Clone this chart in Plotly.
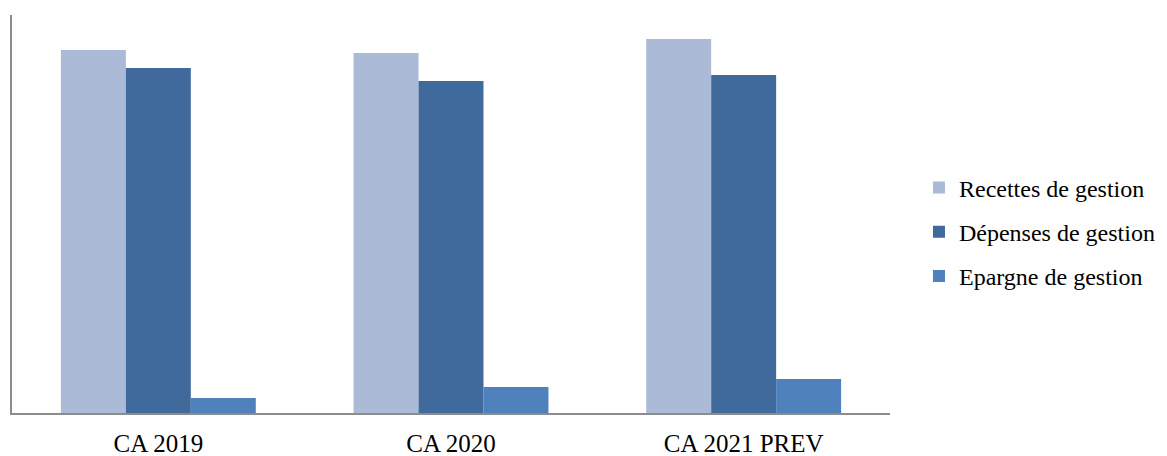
import plotly.graph_objects as go

categories = ["CA 2019", "CA 2020", "CA 2021 PREV"]
recettes = [363, 360, 374]
depenses = [345, 332, 338]
epargne = [15, 26, 34]

series = [
    ("Recettes de gestion", recettes, "#AABAD7"),
    ("Dépenses de gestion", depenses, "#3F6A9B"),
    ("Epargne de gestion", epargne, "#4F81BD"),
]

fig = go.Figure()
for i, (name, vals, color) in enumerate(series):
    fig.add_trace(go.Bar(
        x=categories, y=vals, name=name,
        marker=dict(color=color, line=dict(width=0)),
        legendgroup=f"g{i}",
    ))

serif = "Liberation Serif, Times New Roman, serif"
fig.update_layout(
    width=1167, height=456,
    margin=dict(l=12, r=277, t=15, b=43, autoexpand=False),
    paper_bgcolor="white", plot_bgcolor="white",
    barmode="group", bargap=0.334, bargroupgap=0,
    font=dict(family=serif, size=25, color="#000000"),
    legend=dict(
        x=1.033, xanchor="left", y=0.455, yanchor="middle",
        font=dict(family=serif, size=24, color="#000000"),
        tracegroupgap=10, traceorder="grouped",
        itemwidth=30,
    ),
    showlegend=True,
)
fig.update_xaxes(
    showline=True, linecolor="#8C8C8C", linewidth=2,
    ticks="", showgrid=False, tickfont=dict(family=serif, size=25),
    ticklabelstandoff=7,
)
fig.update_yaxes(
    range=[0, 398], showline=True, linecolor="#8C8C8C", linewidth=2,
    showticklabels=False, ticks="", showgrid=False, zeroline=False,
)

fig.write_html("out.html")
